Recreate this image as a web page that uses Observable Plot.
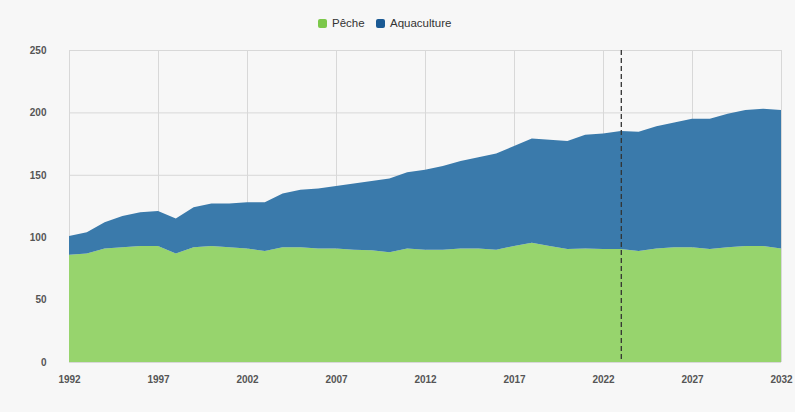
<!DOCTYPE html>
<html>
<head>
<meta charset="utf-8">
<script src="https://cdn.jsdelivr.net/npm/d3@7"></script>
<script src="https://cdn.jsdelivr.net/npm/@observablehq/plot@0.6"></script>
<style>
  html, body { margin: 0; padding: 0; background: #f7f7f7; }
  body { width: 795px; height: 412px; overflow: hidden; font-family: "Liberation Sans", Arial, sans-serif; }
  #legend { position: relative; height: 40px; }
  .item { position: absolute; top: 17px; display: flex; align-items: center; font-size: 11.5px; color: #333; }
  .sw { width: 9px; height: 9px; border-radius: 2px; margin-right: 5px; }
</style>
</head>
<body>
<div id="legend"></div>
<div id="chart"></div>
<script>
const years = d3.range(1992, 2033);
const peche = [86, 87, 91, 92, 93, 93, 87, 92, 93, 92, 91, 89, 92, 92, 91, 91, 90, 89.5, 88, 91,
               90, 90, 91, 91, 90, 93, 95.5, 93, 90.5, 91, 90.5, 90.5, 89, 91, 92, 92, 90.5, 92, 93, 93, 91];
const total = [101, 104, 112, 117, 120, 121, 115, 124, 127, 127, 128, 128, 135, 138, 139, 141, 143, 145, 147, 152,
               154, 157, 161, 164, 167, 173, 179, 178, 177, 182, 183, 185, 184.5, 189, 192, 195, 195, 199, 202, 203, 202];
const aquaculture = total.map((t, i) => t - peche[i]);
const seriesNames = ["Pêche", "Aquaculture"];
const seriesColors = ["#97d46d", "#3a7aab"];
const legendColors = ["#7cc84a", "#1b5a94"];
const xTicks = [1992, 1997, 2002, 2007, 2012, 2017, 2022, 2027, 2032];
const yTicks = [0, 50, 100, 150, 200, 250];
const projectionStart = 2023;

const rows = years.map((y, i) => ({year: y, peche: peche[i], aquaculture: aquaculture[i], total: peche[i] + aquaculture[i]}));

// legend
const legend = document.getElementById("legend");
const lefts = [318, 376];
seriesNames.forEach((name, i) => {
  const it = document.createElement("div");
  it.className = "item";
  it.style.left = lefts[i] + "px";
  it.innerHTML = `<span class="sw" style="background:${legendColors[i]}"></span><span>${name}</span>`;
  legend.appendChild(it);
});

const chart = Plot.plot({
  width: 795,
  height: 372,
  marginTop: 10,
  marginBottom: 50,
  marginLeft: 69,
  marginRight: 14,
  style: {background: "transparent", fontFamily: "'Liberation Sans', Arial, sans-serif", fontSize: "10px", color: "#333"},
  x: {domain: [1992, 2032]},
  y: {domain: [0, 250]},
  marks: [
    Plot.gridY(yTicks, {stroke: "#d8d8d8", strokeOpacity: 1}),
    Plot.gridX(xTicks, {stroke: "#d8d8d8", strokeOpacity: 1}),
    Plot.areaY(rows, {x: "year", y1: 0, y2: "peche", fill: seriesColors[0]}),
    Plot.areaY(rows, {x: "year", y1: "peche", y2: "total", fill: seriesColors[1]}),
    Plot.ruleX([projectionStart], {stroke: "#333", strokeWidth: 1.3, strokeDasharray: "5,3"}),
    Plot.axisY(yTicks, {tickSize: 0, tickPadding: 23, fontWeight: "bold", fill: "#555", label: null}),
    Plot.axisX(xTicks, {tickSize: 0, tickPadding: 13, tickFormat: d => String(d), fontWeight: "bold", fill: "#555", label: null})
  ]
});
document.getElementById("chart").appendChild(chart);
</script>
</body>
</html>
